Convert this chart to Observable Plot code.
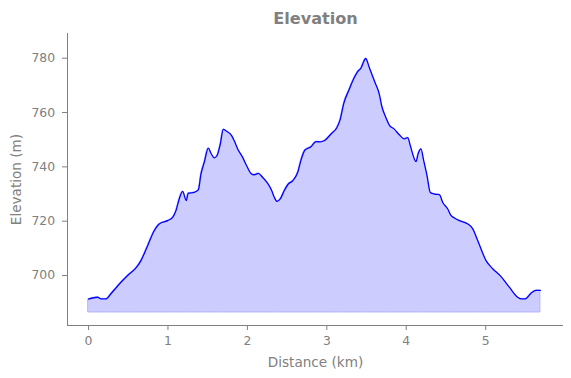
<!DOCTYPE html>
<html>
<head>
<meta charset="utf-8">
<script src="https://cdn.jsdelivr.net/npm/d3@7"></script>
<script src="https://cdn.jsdelivr.net/npm/@observablehq/plot@0.6"></script>
<style>
  html, body { margin: 0; padding: 0; background: white; }
</style>
</head>
<body>
<div id="chart"></div>
<script>
const distanceKm = [0, 0.115, 0.156, 0.219, 0.282, 0.408, 0.492, 0.597, 0.660, 0.744, 0.827, 0.890, 0.996, 1.059, 1.101, 1.142, 1.185, 1.230, 1.256, 1.331, 1.382, 1.416, 1.457, 1.508, 1.542, 1.583, 1.617, 1.659, 1.696, 1.739, 1.802, 1.835, 1.878, 1.941, 1.991, 2.045, 2.087, 2.137, 2.193, 2.256, 2.306, 2.339, 2.373, 2.414, 2.465, 2.515, 2.571, 2.634, 2.675, 2.725, 2.801, 2.864, 2.918, 2.968, 3.053, 3.128, 3.170, 3.213, 3.283, 3.346, 3.389, 3.431, 3.465, 3.490, 3.535, 3.607, 3.661, 3.691, 3.746, 3.787, 3.850, 3.913, 3.976, 4.019, 4.052, 4.082, 4.123, 4.152, 4.186, 4.220, 4.262, 4.303, 4.354, 4.417, 4.460, 4.523, 4.564, 4.606, 4.669, 4.775, 4.838, 4.900, 5.005, 5.089, 5.194, 5.298, 5.404, 5.446, 5.496, 5.572, 5.635, 5.689];
const elevationM = [691.3, 692.0, 691.4, 691.4, 693.3, 697.5, 700.0, 702.8, 705.5, 711.0, 716.5, 719.0, 720.2, 721.4, 723.9, 728.2, 731.0, 727.6, 730.3, 730.6, 731.5, 737.4, 741.7, 746.9, 745.0, 743.3, 744.1, 748.4, 753.8, 753.1, 751.5, 749.6, 746.6, 743.5, 740.4, 737.6, 737.1, 737.6, 736.1, 733.9, 731.3, 728.8, 727.3, 728.2, 731.3, 733.7, 734.9, 738.0, 742.5, 746.2, 747.4, 749.3, 749.2, 749.6, 752.1, 754.5, 757.6, 763.3, 768.6, 772.9, 775.1, 776.4, 778.8, 779.9, 776.6, 771.1, 766.8, 762.5, 758.0, 755.4, 753.9, 751.8, 750.3, 750.8, 747.8, 744.7, 741.9, 745.0, 746.6, 742.3, 736.8, 730.6, 730.0, 729.8, 726.9, 724.5, 722.1, 721.2, 720.2, 719.0, 717.2, 712.9, 705.5, 702.5, 699.6, 695.7, 692.0, 691.4, 691.4, 693.5, 694.5, 694.5];
const fillBaseline = 686.4;
const xTicks = [0, 1, 2, 3, 4, 5];
const yTicks = [700, 720, 740, 760, 780];
const xDomain = [-0.265, 5.98];
const yDomain = [681.6, 789.1];
const titleText = "Elevation";
const xLabel = "Distance (km)";
const yLabel = "Elevation (m)";

const data = distanceKm.map((d, i) => ({d, e: elevationM[i], b: fillBaseline}));
const gray = "#808080";

const chart = Plot.plot({
  width: 571,
  height: 378,
  marginLeft: 67,
  marginRight: 8,
  marginTop: 33,
  marginBottom: 53,
  style: {fontFamily: "'DejaVu Sans', sans-serif", color: gray, background: "white"},
  x: {domain: xDomain},
  y: {domain: yDomain},
  marks: [
    Plot.areaY(data, {x: "d", y1: "b", y2: "e", fill: "#ccccff", stroke: "#b3b3ff", strokeWidth: 1, curve: "monotone-x"}),
    Plot.lineY(data, {x: "d", y: "e", stroke: "#0000ff", strokeWidth: 1.3, curve: "monotone-x"}),
    Plot.ruleX([xDomain[0]], {stroke: gray, strokeWidth: 1}),
    Plot.ruleY([yDomain[0]], {stroke: gray, strokeWidth: 1}),
    Plot.axisX(xTicks, {tickSize: 5, tickPadding: 6, fontSize: 12.4, label: null, stroke: gray}),
    Plot.axisY(yTicks, {tickSize: 5, tickPadding: 7.4, fontSize: 12.4, label: null, stroke: gray}),
    Plot.axisX([], {tickSize: 0, fontSize: 13.6, label: xLabel, labelAnchor: "center", labelArrow: "none", labelOffset: 41}),
    Plot.axisY([], {tickSize: 0, fontSize: 13.6, label: yLabel, labelAnchor: "center", labelArrow: "none", labelOffset: 56}),
    Plot.text([titleText], {frameAnchor: "top", dy: -15, lineAnchor: "middle", fontSize: 16.1, fontWeight: "bold", fill: gray})
  ]
});
document.getElementById("chart").appendChild(chart);
</script>
</body>
</html>
